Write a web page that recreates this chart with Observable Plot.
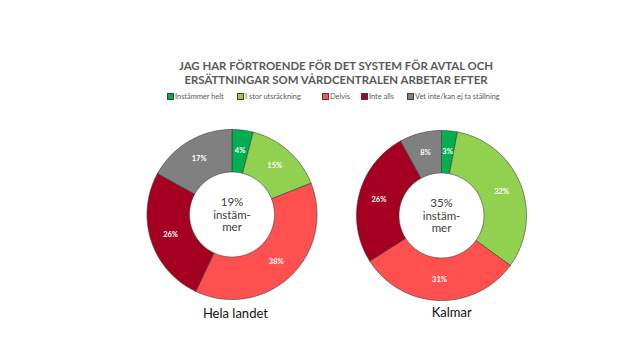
<!DOCTYPE html>
<html>
<head>
<meta charset="utf-8">
<script src="https://cdn.jsdelivr.net/npm/d3@7"></script>
<script src="https://cdn.jsdelivr.net/npm/@observablehq/plot@0.6"></script>
<style>
  body { margin: 0; background: #fff; font-family: Lato, "Open Sans", sans-serif; }
  #wrap { position: relative; width: 640px; height: 360px; overflow: hidden; }
  #title { position: absolute; left: 0; width: 672px; top: 59px; text-align: center;
           font-weight: bold; font-size: 11.4px; line-height: 14px; color: #595959; }
  #legend { position: absolute; left: 167px; top: 92px; font-size: 7.4px; color: #595959;
            white-space: nowrap; }
  #legend span.item { position: absolute; top: 0; }
  #legend i { display: inline-block; width: 5px; height: 5px; border: 0.5px solid #404040;
              margin-right: 1px; vertical-align: -0.5px; }
  #chart { position: absolute; left: 0; top: 105px; }
</style>
</head>
<body>
<div id="wrap">
  <div id="title">JAG HAR FÖRTROENDE FÖR DET SYSTEM FÖR AVTAL OCH<br>ERSÄTTNINGAR SOM VÅRDCENTRALEN ARBETAR EFTER</div>
  <div id="legend"></div>
  <div id="chart"></div>
</div>
<script>
// ---- data ----
const categories = ["Instämmer helt", "I stor utsräckning", "Delvis", "Inte alls", "Vet inte/kan ej ta ställning"];
const colors = ["#00B050", "#92D050", "#FF5050", "#A50021", "#808080"];
const regions = ["Hela landet", "Kalmar"];
const helaLandet = [4, 15, 38, 26, 17];
const kalmar = [3, 32, 31, 26, 8];
const centerWord = ["instäm-", "mer"];

// ---- layout (not data) ----
const unitPx = 85;                 // outer radius in px
const svgW = 640, svgH = 255;
const centerPx = [{x: 231.5, y: 109}, {x: 441, y: 110}];
const innerR = 0.5, labelR = 0.76;
const legendOffsets = [0, 70, 155, 194, 240];

const series = [helaLandet, kalmar];
const cx = centerPx.map(c => (c.x - centerPx[0].x) / unitPx);
const cy = centerPx.map(c => (centerPx[0].y - c.y) / unitPx);

// build slice polygons in unit coordinates
const polys = [], labels = [], centers = [], names = [];
series.forEach((vals, d) => {
  const total = d3.sum(vals);
  let acc = 0;
  vals.forEach((v, i) => {
    const a0 = acc / total * 2 * Math.PI, a1 = (acc + v) / total * 2 * Math.PI;
    acc += v;
    const key = regions[d] + "|" + categories[i];
    const n = Math.max(2, Math.ceil((a1 - a0) / (Math.PI / 180)));
    const pts = [];
    for (let k = 0; k <= n; k++) { const a = a0 + (a1 - a0) * k / n; pts.push([Math.sin(a), Math.cos(a)]); }
    for (let k = n; k >= 0; k--) { const a = a0 + (a1 - a0) * k / n; pts.push([innerR * Math.sin(a), innerR * Math.cos(a)]); }
    pts.push(pts[0]);
    pts.forEach(([px, py]) => polys.push({key, category: categories[i], x: cx[d] + px, y: cy[d] + py}));
    const am = (a0 + a1) / 2;
    labels.push({x: cx[d] + labelR * Math.sin(am), y: cy[d] + labelR * Math.cos(am), text: v + "%"});
  });
  centers.push({x: cx[d], y: cy[d], text: (vals[0] + vals[1]) + "%\n" + centerWord.join("\n")});
});
names.push({x: cx[0] + 0.04, y: cy[0] - 1.165, text: regions[0]});
names.push({x: cx[1] + 0.12, y: cy[1] - 1.14, text: regions[1]});

const x0 = -centerPx[0].x / unitPx, x1 = (svgW - centerPx[0].x) / unitPx;
const y1 = centerPx[0].y / unitPx, y0 = -(svgH - centerPx[0].y) / unitPx;

const chart = Plot.plot({
  width: svgW, height: svgH,
  margin: 0,
  x: {domain: [x0, x1], axis: null},
  y: {domain: [y0, y1], axis: null},
  color: {domain: categories, range: colors},
  style: {fontFamily: "Lato, 'Open Sans', sans-serif", background: "transparent"},
  marks: [
    Plot.line(polys, {x: "x", y: "y", z: "key", fill: "category", stroke: "#3a3a3a", strokeWidth: 0.6, curve: "linear"}),
    Plot.text(labels, {x: "x", y: "y", text: "text", fill: "white", fontWeight: "bold", fontSize: 7.5}),
    Plot.text(centers, {x: "x", y: "y", text: "text", fill: "#404040", fontSize: 11.5, lineHeight: 1.1}),
    Plot.text(names, {x: "x", y: "y", text: "text", fill: "#111", fontSize: 13})
  ]
});
document.getElementById("chart").appendChild(chart);

// legend
const lg = document.getElementById("legend");
categories.forEach((c, i) => {
  const s = document.createElement("span");
  s.className = "item";
  s.style.left = legendOffsets[i] + "px";
  s.innerHTML = `<i style="background:${colors[i]}"></i>${c}`;
  lg.appendChild(s);
});
</script>
</body>
</html>
